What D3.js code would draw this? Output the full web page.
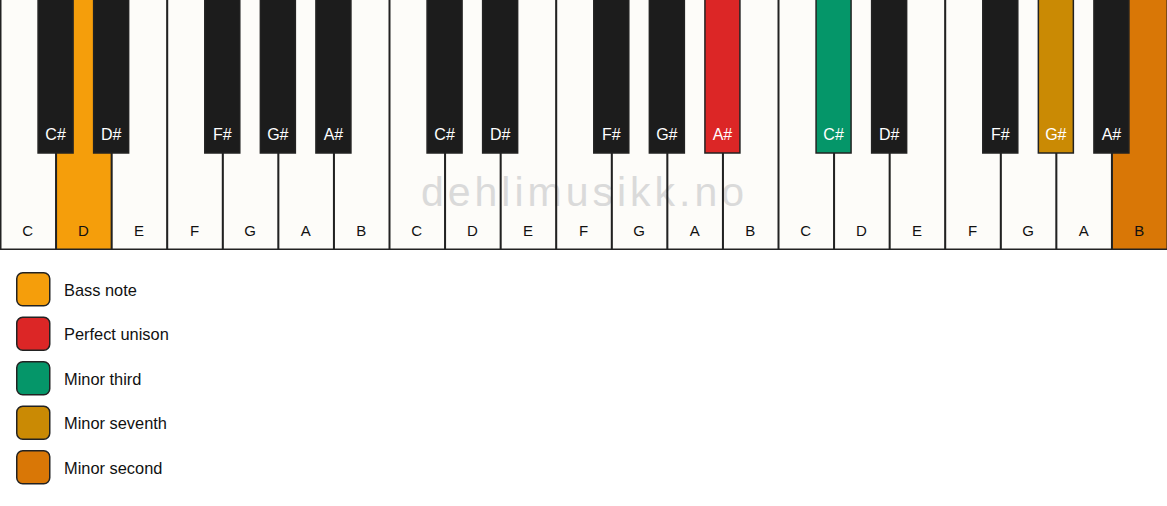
<!DOCTYPE html>
<html><head><meta charset="utf-8">
<script src="https://cdn.jsdelivr.net/npm/d3@7"></script>
<style>
html,body{margin:0;padding:0;background:#fff;}
svg{display:block;font-family:"Liberation Sans",Arial,sans-serif;}
</style></head>
<body>
<svg id="c" width="1167" height="506"></svg>
<script>
// Data
const octaves = [0, 1, 2];
const whiteNotes = ["C","D","E","F","G","A","B"];
const blackNotes = ["C#","D#","F#","G#","A#"];
const blackAfterWhite = [0, 1, 3, 4, 5]; // index of white key left of each black key
// highlighted keys
const highlightOctave = [0, 1, 2, 2, 2];
const highlightNote = ["D", "A#", "C#", "G#", "B"];
const highlightRole = ["Bass note", "Perfect unison", "Minor third", "Minor seventh", "Minor second"];
const legendLabels = ["Bass note", "Perfect unison", "Minor third", "Minor seventh", "Minor second"];
const legendColors = ["#f59e0b", "#dc2626", "#059669", "#ca8a04", "#d97706"];
const watermark = "dehlimusikk.no";

const svg = d3.select("#c");
const W = 1167, keyH = 250, blackH = 153, blackW = 35;
const whiteKeys = [];
octaves.forEach(o => whiteNotes.forEach((n, i) => whiteKeys.push({o, n, idx: o*7 + i})));
const blackKeys = [];
octaves.forEach(o => blackNotes.forEach((n, i) => blackKeys.push({o, n, b: o*7 + blackAfterWhite[i] + 1})));

const x = d3.scaleLinear().domain([0, whiteKeys.length]).range([0, W]);
const color = d3.scaleOrdinal().domain(legendLabels).range(legendColors);
function fillFor(k, base) {
  for (let i = 0; i < highlightNote.length; i++) {
    if (highlightOctave[i] === k.o && highlightNote[i] === k.n) return color(highlightRole[i]);
  }
  return base;
}

const g = svg.append("g");
g.selectAll("rect.w").data(whiteKeys).join("rect").attr("class","w")
  .attr("x", d => x(d.idx) + 0.75).attr("y", -1)
  .attr("width", d => x(d.idx+1) - x(d.idx) - 0.5).attr("height", keyH + 0.25)
  .attr("fill", d => fillFor(d, "#fdfcf9")).attr("stroke", "none");

// watermark
g.append("text").attr("x", W/2 + 1).attr("y", 206).attr("text-anchor","middle")
  .attr("font-size", 41).attr("letter-spacing", "4px").attr("fill", "#dadada")
  .text(watermark);

g.selectAll("rect.wo").data(whiteKeys).join("rect").attr("class","wo")
  .attr("x", d => x(d.idx) + 0.75).attr("y", -1)
  .attr("width", d => x(d.idx+1) - x(d.idx) - 0.5).attr("height", keyH + 0.25)
  .attr("fill", "none").attr("stroke", "#222").attr("stroke-width", 1.5);
g.selectAll("text.w").data(whiteKeys).join("text").attr("class","w")
  .attr("x", d => (x(d.idx) + x(d.idx+1))/2).attr("y", 236)
  .attr("text-anchor","middle").attr("font-size", 15).attr("fill", "#111").text(d => d.n);

g.selectAll("rect.b").data(blackKeys).join("rect").attr("class","b")
  .attr("x", d => x(d.b) - blackW/2).attr("y", -1)
  .attr("width", blackW).attr("height", blackH + 1)
  .attr("fill", d => fillFor(d, "#1c1c1c")).attr("stroke", "#222").attr("stroke-width", 1.5);
g.selectAll("text.b").data(blackKeys).join("text").attr("class","b")
  .attr("x", d => x(d.b)).attr("y", 140)
  .attr("text-anchor","middle").attr("font-size", 16).attr("fill", "#fff").text(d => d.n);

// legend
const ly = d3.scaleLinear().domain([0, 1]).range([272, 316.5]);
const lg = svg.append("g").selectAll("g").data(legendLabels).join("g")
  .attr("transform", (d, i) => `translate(16,${ly(i)})`);
lg.append("rect").attr("x", 0.75).attr("y", 0.75).attr("width", 33).attr("height", 33)
  .attr("rx", 6).attr("fill", d => color(d)).attr("stroke", "#222").attr("stroke-width", 1.5);
lg.append("text").attr("x", 48).attr("y", 23.5).attr("font-size", 16.4).attr("fill", "#111").text(d => d);
</script>
</body></html>
